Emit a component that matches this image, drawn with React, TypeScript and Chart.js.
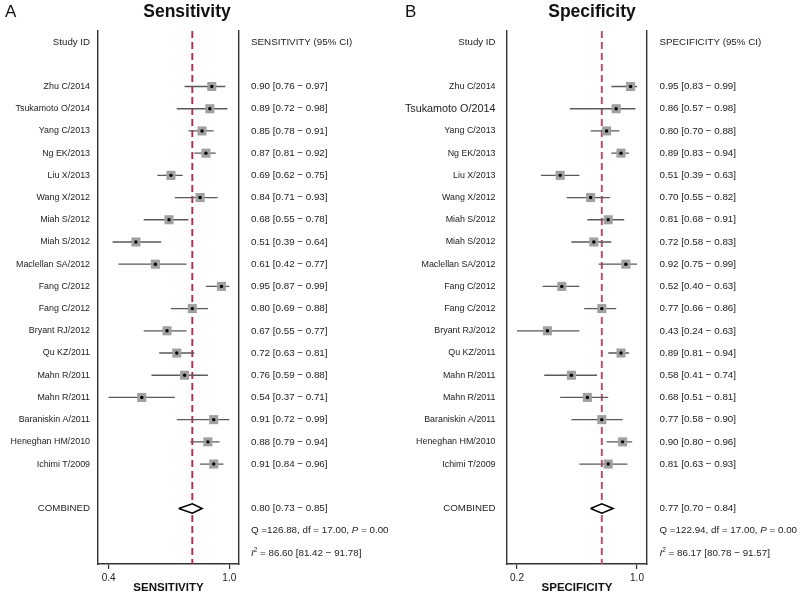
import React, { useEffect, useRef } from "react";
import { Chart, registerables } from "chart.js";

Chart.register(...registerables);

// ---------- data ----------
const studies = [
  "Zhu C/2014",
  "Tsukamoto O/2014",
  "Yang C/2013",
  "Ng EK/2013",
  "Liu X/2013",
  "Wang X/2012",
  "Miah S/2012",
  "Miah S/2012",
  "Maclellan SA/2012",
  "Fang C/2012",
  "Fang C/2012",
  "Bryant RJ/2012",
  "Qu KZ/2011",
  "Mahn R/2011",
  "Mahn R/2011",
  "Baraniskin A/2011",
  "Heneghan HM/2010",
  "Ichimi T/2009",
];

const sensEst = [0.9, 0.89, 0.85, 0.87, 0.69, 0.84, 0.68, 0.51, 0.61, 0.95, 0.8, 0.67, 0.72, 0.76, 0.54, 0.91, 0.88, 0.91];
const sensLo = [0.76, 0.72, 0.78, 0.81, 0.62, 0.71, 0.55, 0.39, 0.42, 0.87, 0.69, 0.55, 0.63, 0.59, 0.37, 0.72, 0.79, 0.84];
const sensHi = [0.97, 0.98, 0.91, 0.92, 0.75, 0.93, 0.78, 0.64, 0.77, 0.99, 0.88, 0.77, 0.81, 0.88, 0.71, 0.99, 0.94, 0.96];

const specEst = [0.95, 0.86, 0.8, 0.89, 0.51, 0.7, 0.81, 0.72, 0.92, 0.52, 0.77, 0.43, 0.89, 0.58, 0.68, 0.77, 0.9, 0.81];
const specLo = [0.83, 0.57, 0.7, 0.83, 0.39, 0.55, 0.68, 0.58, 0.75, 0.4, 0.66, 0.24, 0.81, 0.41, 0.51, 0.58, 0.8, 0.63];
const specHi = [0.99, 0.98, 0.88, 0.94, 0.63, 0.82, 0.91, 0.83, 0.99, 0.63, 0.86, 0.63, 0.94, 0.74, 0.81, 0.9, 0.96, 0.93];

// pooled: estimate, lower, upper
const sensPooled = [0.8, 0.73, 0.85];
const specPooled = [0.77, 0.7, 0.84];

// heterogeneity: Q, df, P, I2, I2 lower, I2 upper
const sensStats = ["126.88", "17.00", "0.00", "86.60", "81.42", "91.78"];
const specStats = ["122.94", "17.00", "0.00", "86.17", "80.78", "91.57"];

// x-axis ticks (min lower CI, max upper CI)
const sensTicks = [0.37, 0.99];
const specTicks = [0.24, 0.99];

const FONT = "'Liberation Sans', Arial, Helvetica, sans-serif";

type Panel = {
  letter: string;
  title: string;
  axisTitle: string;
  header: string;
  est: number[];
  lo: number[];
  hi: number[];
  pooled: number[];
  stats: string[];
  ticks: number[];
  xMin: number;
  xMax: number;
  padLeft: number;
  padRight: number;
  dashColor: string;
  titleX: number;
  labelGap: number;
  valueGap: number;
  bigLabelRow: number;
};

const panels: Panel[] = [
  {
    letter: "A",
    title: "Sensitivity",
    axisTitle: "SENSITIVITY",
    header: "SENSITIVITY (95% CI)",
    est: sensEst,
    lo: sensLo,
    hi: sensHi,
    pooled: sensPooled,
    stats: sensStats,
    ticks: sensTicks,
    xMin: 0.315,
    xMax: 1.04,
    padLeft: 98,
    padRight: 161,
    dashColor: "#b3284c",
    titleX: 187,
    labelGap: 8,
    valueGap: 12,
    bigLabelRow: -1,
  },
  {
    letter: "B",
    title: "Specificity",
    axisTitle: "SPECIFICITY",
    header: "SPECIFICITY (95% CI)",
    est: specEst,
    lo: specLo,
    hi: specHi,
    pooled: specPooled,
    stats: specStats,
    ticks: specTicks,
    xMin: 0.1775,
    xMax: 1.0525,
    padLeft: 107,
    padRight: 153,
    dashColor: "#c0466a",
    titleX: 192,
    labelGap: 11.5,
    valueGap: 12.5,
    bigLabelRow: 1,
  },
];

const HEADER_ROW = 0;
const FIRST_STUDY_ROW = 2;
const COMBINED_ROW = 21;
const Q_ROW = 22;
const I2_ROW = 23;

const fmt = (v: number) => v.toFixed(2);

function ForestPanel({ p }: { p: Panel }) {
  const ref = useRef<HTMLCanvasElement | null>(null);

  useEffect(() => {
    if (!ref.current) return;
    const rows = studies.map((_, i) => FIRST_STUDY_ROW + i);

    const ciData: any[] = [];
    studies.forEach((_, i) => {
      ciData.push({ x: p.lo[i], y: rows[i] });
      ciData.push({ x: p.hi[i], y: rows[i] });
      ciData.push({ x: p.hi[i], y: null });
    });
    const ptData = studies.map((_, i) => ({ x: p.est[i], y: rows[i] }));
    const [pe, pl, ph] = p.pooled;
    const dh = 0.21;
    const diamond = [
      { x: pl, y: COMBINED_ROW },
      { x: pe, y: COMBINED_ROW - dh },
      { x: ph, y: COMBINED_ROW },
      { x: pe, y: COMBINED_ROW + dh },
      { x: pl, y: COMBINED_ROW },
    ];
    const dashed = [
      { x: pe, y: -0.5 },
      { x: pe, y: 23.5 },
    ];

    const textPlugin = {
      id: "forestText",
      afterDraw(chart: any) {
        const ctx = chart.ctx as CanvasRenderingContext2D;
        const ys = chart.scales.y;
        const area = chart.chartArea;
        const lx = area.left - p.labelGap;
        const rx = area.right + p.valueGap;
        ctx.save();
        ctx.textBaseline = "middle";

        // panel letter + title
        ctx.textAlign = "left";
        ctx.font = `17px ${FONT}`;
        ctx.fillStyle = "#111";
        ctx.fillText(p.letter, 5, 12);
        ctx.textAlign = "center";
        ctx.font = `bold 17.5px ${FONT}`;
        ctx.fillText(p.title, p.titleX, 12);

        ctx.fillStyle = "#222";
        ctx.font = `9.7px ${FONT}`;
        // left labels
        ctx.textAlign = "right";
        ctx.fillText("Study ID", lx, ys.getPixelForValue(HEADER_ROW));
        ctx.fillText("COMBINED", lx, ys.getPixelForValue(COMBINED_ROW));
        studies.forEach((s, i) => {
          ctx.font = i === p.bigLabelRow ? `10.8px ${FONT}` : `8.9px ${FONT}`;
          ctx.fillText(s, lx, ys.getPixelForValue(FIRST_STUDY_ROW + i));
        });

        // right values
        ctx.font = `9.8px ${FONT}`;
        ctx.textAlign = "left";
        ctx.fillText(p.header, rx, ys.getPixelForValue(HEADER_ROW));
        studies.forEach((_, i) => {
          ctx.fillText(
            `${fmt(p.est[i])} [${fmt(p.lo[i])} \u2212 ${fmt(p.hi[i])}]`,
            rx,
            ys.getPixelForValue(FIRST_STUDY_ROW + i)
          );
        });
        ctx.fillText(
          `${fmt(pe)} [${fmt(pl)} \u2212 ${fmt(ph)}]`,
          rx,
          ys.getPixelForValue(COMBINED_ROW)
        );

        // Q line with italic P
        const [q, df, pv, i2, i2l, i2h] = p.stats;
        const yq = ys.getPixelForValue(Q_ROW);
        let x = rx;
        const seg1 = `Q =${q}, df = ${df}, `;
        ctx.fillText(seg1, x, yq);
        x += ctx.measureText(seg1).width;
        ctx.font = `italic 9.8px ${FONT}`;
        ctx.fillText("P", x, yq);
        x += ctx.measureText("P").width;
        ctx.font = `9.8px ${FONT}`;
        ctx.fillText(` = ${pv}`, x, yq);

        // I2 line
        const yi = ys.getPixelForValue(I2_ROW);
        x = rx;
        ctx.font = `italic 9.8px ${FONT}`;
        ctx.fillText("I", x, yi);
        x += ctx.measureText("I").width;
        ctx.font = `6.5px ${FONT}`;
        ctx.fillText("2", x, yi - 3);
        x += ctx.measureText("2").width;
        ctx.font = `9.8px ${FONT}`;
        ctx.fillText(` = ${i2} [${i2l} \u2212 ${i2h}]`, x, yi);
        ctx.restore();
      },
    };

    const chart = new Chart(ref.current, {
      type: "scatter",
      data: {
        datasets: [
          {
            type: "scatter",
            data: ptData,
            pointStyle: "circle",
            pointRadius: 1.7,
            pointBackgroundColor: "#000",
            pointBorderWidth: 0,
            order: 0,
          } as any,
          {
            type: "scatter",
            data: ptData,
            pointStyle: "rect",
            pointRadius: 6.4,
            pointBackgroundColor: "#a0a0a0",
            pointBorderWidth: 0,
            order: 1,
          } as any,
          {
            type: "line",
            data: diamond,
            borderColor: "#000",
            borderWidth: 1.6,
            backgroundColor: "#fff",
            fill: "shape",
            pointRadius: 0,
            tension: 0,
            order: 2,
          } as any,
          {
            type: "line",
            data: ciData,
            borderColor: "#5a5a5a",
            borderWidth: 1.3,
            pointRadius: 0,
            spanGaps: false,
            fill: false,
            tension: 0,
            order: 3,
          } as any,
          {
            type: "line",
            data: dashed,
            borderColor: p.dashColor,
            borderWidth: 1.9,
            borderDash: [7, 4],
            pointRadius: 0,
            fill: false,
            order: 4,
          } as any,
        ],
      },
      options: {
        animation: false,
        responsive: false,
        devicePixelRatio: 1,
        layout: { padding: { left: p.padLeft, right: p.padRight, top: 31, bottom: 0 } },
        plugins: { legend: { display: false }, tooltip: { enabled: false } },
        scales: {
          x: {
            type: "linear",
            position: "bottom",
            min: p.xMin,
            max: p.xMax,
            afterBuildTicks: (s: any) => {
              s.ticks = p.ticks.map((v) => ({ value: v }));
            },
            afterFit: (s: any) => {
              s.height = 31;
            },
            ticks: {
              callback: (v: any) => Number(v).toFixed(1),
              font: { family: FONT, size: 10 },
              color: "#222",
              padding: 3,
              maxRotation: 0,
              autoSkip: false,
            },
            grid: {
              display: true,
              drawOnChartArea: false,
              drawTicks: true,
              tickLength: 5,
              color: "#333",
              lineWidth: 1.2,
            },
            border: { display: true, color: "#333", width: 1.4 },
            title: {
              display: true,
              text: p.axisTitle,
              font: { family: FONT, size: 11.5, weight: "bold" },
              color: "#111",
              padding: { top: 0, bottom: 0 },
            },
          },
          y: {
            type: "linear",
            position: "left",
            reverse: true,
            min: -0.5,
            max: 23.5,
            ticks: { display: false },
            grid: { display: false },
            border: { display: true, color: "#333", width: 1.4 },
            afterFit: (s: any) => {
              s.width = 0;
            },
          },
          y2: {
            type: "linear",
            position: "right",
            reverse: true,
            min: -0.5,
            max: 23.5,
            ticks: { display: false },
            grid: { display: false },
            border: { display: true, color: "#333", width: 1.4 },
            afterFit: (s: any) => {
              s.width = 0;
            },
          },
        },
      } as any,
      plugins: [textPlugin],
    });
    return () => chart.destroy();
  }, [p]);

  return <canvas ref={ref} width={400} height={595} style={{ width: 400, height: 595, display: "block" }} />;
}

export default function App() {
  return (
    <div
      style={{
        position: "fixed",
        left: 0,
        top: 0,
        width: 800,
        height: 595,
        background: "#fff",
        display: "flex",
      }}
    >
      {panels.map((p) => (
        <ForestPanel key={p.letter} p={p} />
      ))}
    </div>
  );
}
